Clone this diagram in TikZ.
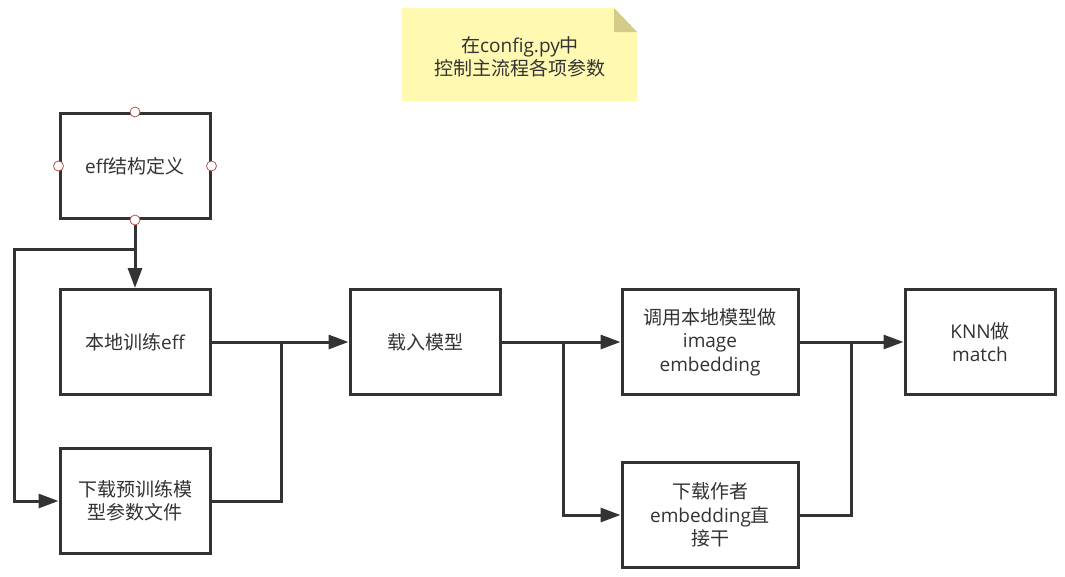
\documentclass[tikz,border=0pt]{standalone}
\usepackage{fontspec}
\setmainfont{Noto Sans CJK SC}
\newfontfamily\latfont{Open Sans}
\newcommand{\lat}[1]{{\latfont #1}}
\usetikzlibrary{arrows.meta}
\definecolor{linegray}{HTML}{333333}
\definecolor{notefill}{HTML}{FFF9B1}
\definecolor{notefold}{HTML}{D3CB87}
\definecolor{portred}{HTML}{B85450}

\begin{document}
\begin{tikzpicture}[
                x=1pt, y=-1pt,                % 按像素坐标
                every node/.style={
                    font=\fontsize{19}{23.5}\selectfont,
                    text=linegray
                },
                box/.style={
                    draw=linegray,
                    line width=3pt,
                    fill=white,
                    minimum width=150pt,
                    minimum height=105pt,
                    align=center
                },
                line/.style={draw=linegray, line width=3pt},
                arrow/.style={line, -{Triangle[length=20pt,width=14pt]}},
                port/.style={circle, draw=portred, fill=white, line width=0.8pt, minimum size=10pt, inner sep=0pt}
            ]
                \useasboundingbox (0,0) rectangle (1065,576);

                % 便签
                \fill[notefill] (402,8) -- (614,8) -- (637,32) -- (637,101) -- (402,101) -- cycle;
                \fill[notefold] (614,8) -- (637,32) -- (614,32) -- cycle;
                \node (note) at (520,57) [align=center] {在\lat{config.py}中\\控制主流程各项参数};

                % 节点
                \node[box] (effdef) at (135,166) {\lat{eff}结构定义};
                \node[box] (train) at (135,342) {本地训练\lat{eff}};
                \node[box] (pretrained) at (135,501) {下载预训练模\\型参数文件};
                \node[box] (load) at (425,342) {载入模型};
                \node[box, minimum width=176pt] (localemb) at (710,342) {调用本地模型做\\\lat{image}\\\lat{embedding}};
                \node[box, minimum width=176pt] (authoremb) at (710,515) {下载作者\\\lat{embedding}直\\接干};
                \node[box] (knn) at (980,342) {\lat{KNN}做\\\lat{match}};

                % 分支点
                \coordinate (split1) at (135,249);
                \coordinate (left1) at (14,249);
                \coordinate (join1) at (281,342);
                \coordinate (split2) at (563,342);
                \coordinate (join2) at (851,342);

                % 边
                \draw[arrow] (effdef.south) -- (train.north);
                \draw[arrow] (split1) -- (left1) |- (pretrained.west);
                \draw[arrow] (train.east) -- (load.west);
                \draw[line] (pretrained.east) -| (join1);
                \draw[arrow] (load.east) -- (localemb.west);
                \draw[arrow] (split2) |- (authoremb.west);
                \draw[arrow] (localemb.east) -- (knn.west);
                \draw[line] (authoremb.east) -| (join2);

                % 连接点
                \foreach \side in {north, south, east, west}
                    \node[port] at (effdef.\side) {};
            \end{tikzpicture}
\end{document}
